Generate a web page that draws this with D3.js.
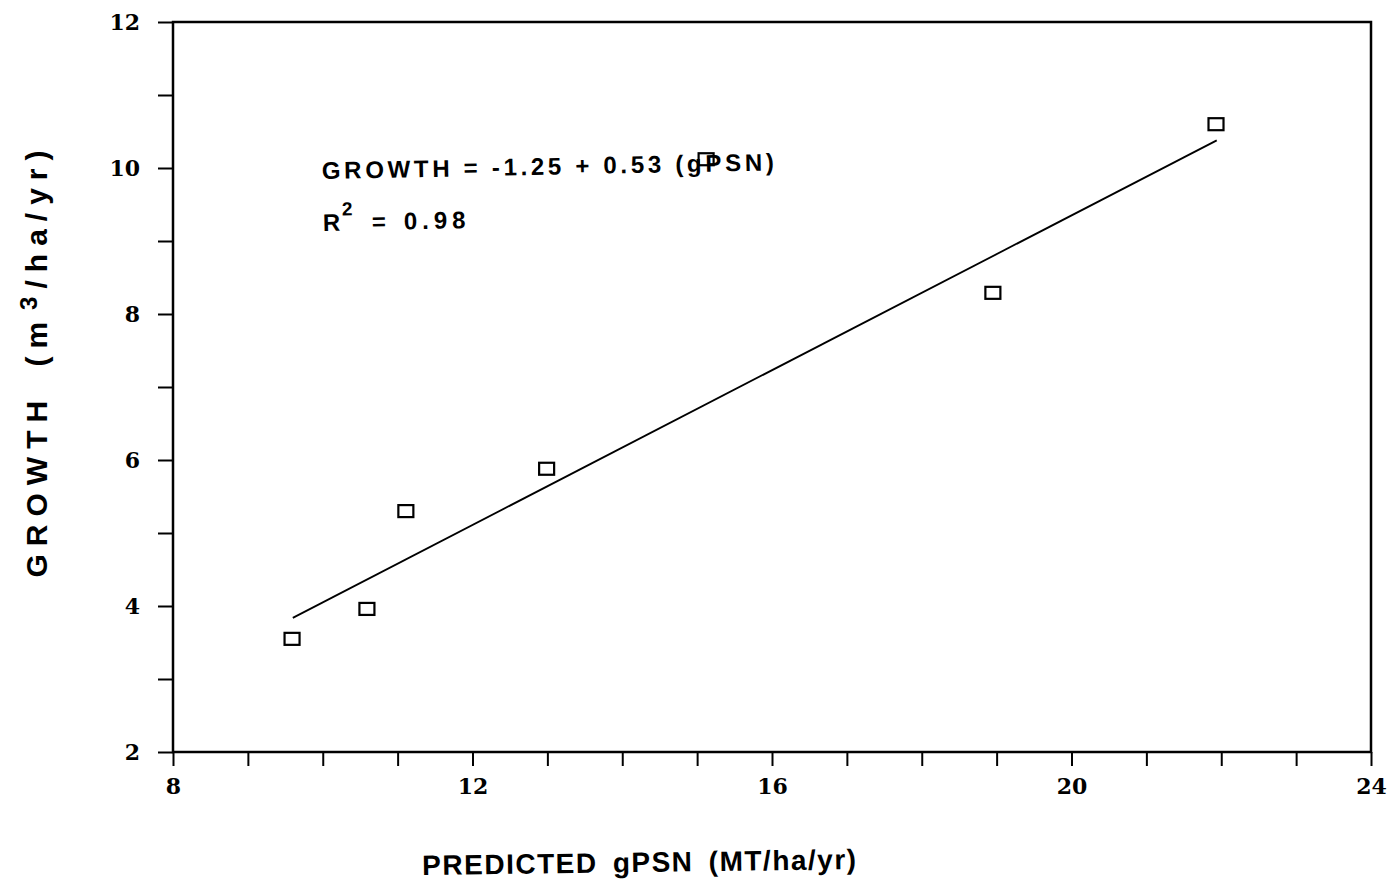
<!DOCTYPE html>
<html>
<head>
<meta charset="utf-8">
<script src="https://cdn.jsdelivr.net/npm/d3@7"></script>
<style>
  body { margin: 0; background: #fff; }
  svg { display: block; }
</style>
</head>
<body>
<svg id="chart"></svg>
<script>
// observed points: predicted gPSN vs growth
const gpsn = [9.59, 10.59, 11.11, 12.99, 15.12, 18.95, 21.93];
const growth = [3.55, 3.96, 5.30, 5.88, 10.12, 8.29, 10.60];

// regression line GROWTH = -1.25 + 0.53 (gPSN), drawn over the data range
const fitCoef = [-1.25, 0.53];
const fitRange = [9.6, 21.94];

const xTickLabels = [8, 12, 16, 20, 24];
const yTickLabels = [2, 4, 6, 8, 10, 12];

const width = 1393, height = 889;
const svg = d3.select("#chart").attr("width", width).attr("height", height);

const x = d3.scaleLinear().domain([8, 24]).range([173, 1371]);
const y = d3.scaleLinear().domain([2, 12]).range([752, 22]);

const tickFont = "'DejaVu Serif', 'Liberation Serif', serif";
const titleFont = "'Liberation Sans', Arial, sans-serif";

// x axis, minor ticks every unit, labels every 4
const xAxis = svg.append("g")
  .attr("transform", `translate(0,${y(2)})`)
  .call(d3.axisBottom(x)
    .tickValues(d3.range(8, 25))
    .tickSize(14)
    .tickPadding(12)
    .tickFormat(d => xTickLabels.includes(d) ? d : ""));

// y axis, minor ticks every unit, labels every 2
const yAxis = svg.append("g")
  .attr("transform", `translate(${x(8)},0)`)
  .call(d3.axisLeft(y)
    .tickValues(d3.range(2, 13))
    .tickSize(15)
    .tickPadding(18)
    .tickFormat(d => yTickLabels.includes(d) ? d : ""));

[xAxis, yAxis].forEach(g => {
  g.select(".domain").remove();
  g.selectAll(".tick line").attr("stroke", "#000").attr("stroke-width", 2);
  g.selectAll(".tick text")
    .attr("fill", "#000")
    .style("font-family", tickFont)
    .style("font-size", "22px")
    .style("font-weight", "bold");
});

// frame
svg.append("rect")
  .attr("x", x(8)).attr("y", y(12))
  .attr("width", x(24) - x(8)).attr("height", y(2) - y(12))
  .attr("fill", "none").attr("stroke", "#000").attr("stroke-width", 2.5);

// fitted line
const line = d3.line().x(d => x(d)).y(d => y(fitCoef[0] + fitCoef[1] * d));
svg.append("path")
  .datum(fitRange)
  .attr("d", line)
  .attr("fill", "none").attr("stroke", "#000").attr("stroke-width", 1.8);

// square markers
const sw = 15, sh = 12;
svg.append("g").selectAll("rect")
  .data(d3.zip(gpsn, growth))
  .join("rect")
  .attr("x", d => x(d[0]) - sw / 2)
  .attr("y", d => y(d[1]) - sh / 2)
  .attr("width", sw).attr("height", sh)
  .attr("fill", "none").attr("stroke", "#000").attr("stroke-width", 2.2);

// equation annotation
const note = svg.append("g")
  .attr("transform", "rotate(-1.1, 322, 178)")
  .style("font-family", titleFont)
  .style("font-weight", "bold")
  .style("font-size", "24px")
  .attr("fill", "#000");

note.append("text")
  .attr("x", 322).attr("y", 179)
  .attr("textLength", 452).attr("lengthAdjust", "spacing")
  .text("GROWTH = -1.25 + 0.53 (gPSN)");

const r2 = note.append("text").attr("x", 322).attr("y", 231);
r2.append("tspan").text("R");
r2.append("tspan").attr("dy", -15).attr("dx", 2).style("font-size", "19px").text("2");
r2.append("tspan").attr("dy", 15).attr("x", 371).text("=");
r2.append("tspan").attr("x", 403).style("letter-spacing", "5px").text("0.98");

// axis titles
svg.append("text")
  .attr("x", 640).attr("y", 872)
  .attr("text-anchor", "middle")
  .attr("transform", "rotate(-0.8, 640, 872)")
  .style("font-family", titleFont)
  .style("font-weight", "bold")
  .style("font-size", "28px")
  .style("letter-spacing", "1.5px")
  .style("word-spacing", "6px")
  .text("PREDICTED gPSN (MT/ha/yr)");

const yt = svg.append("text")
  .attr("transform", "translate(47,360) rotate(-90)")
  .attr("text-anchor", "middle")
  .style("font-family", titleFont)
  .style("font-weight", "bold")
  .style("font-size", "30px")
  .style("letter-spacing", "8px")
  .style("word-spacing", "10px");
yt.append("tspan").text("GROWTH (m");
yt.append("tspan").attr("dy", -10).attr("dx", 4).style("font-size", "24px").text("3");
yt.append("tspan").attr("dy", 10).text("/ha/yr)");
</script>
</body>
</html>
